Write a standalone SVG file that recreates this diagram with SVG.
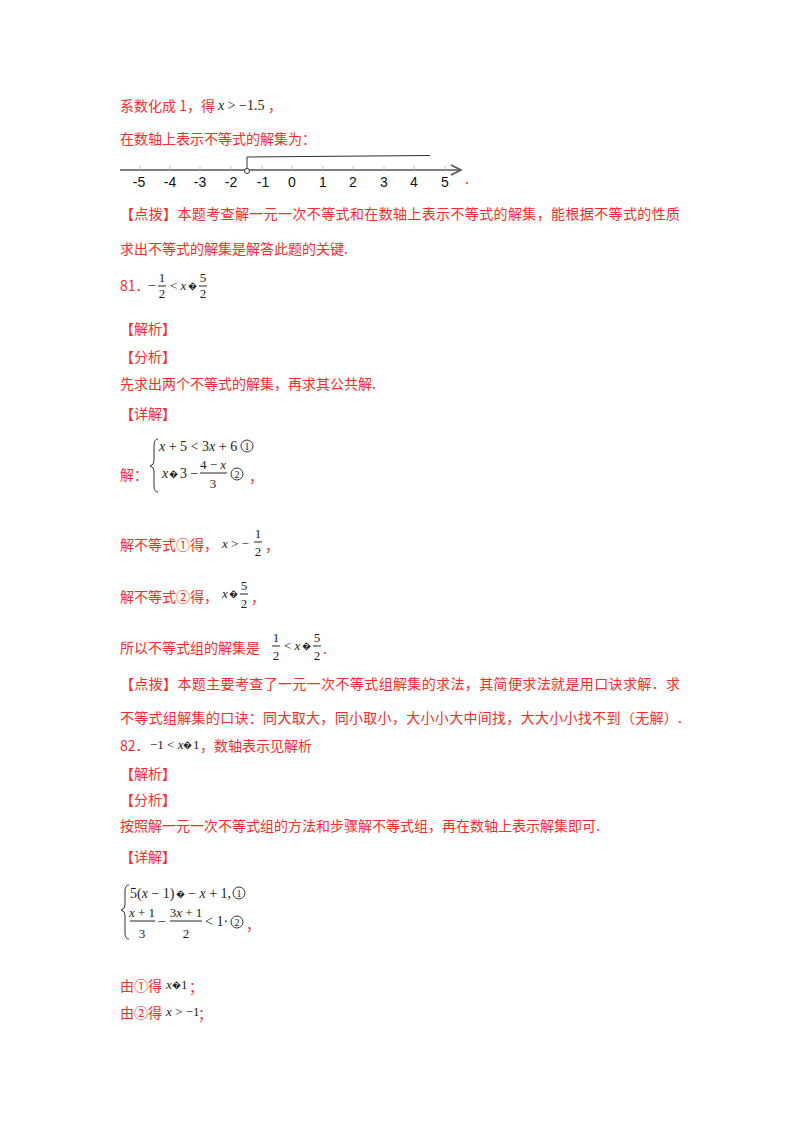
<svg xmlns="http://www.w3.org/2000/svg" width="800" height="1132" viewBox="0 0 800 1132">
<style>
.r{fill:#ff2a2a;font-family:"Noto Sans CJK SC","Liberation Serif",serif;font-size:14px}
.m{fill:#222;font-family:"Liberation Serif","Noto Sans CJK SC",serif;font-size:14px}
.i{font-style:italic}
.s{font-size:13px}
.q{font-size:9px}
.ax{fill:#111;font-family:"Liberation Sans",sans-serif;font-size:14px}
.ln{stroke:#333;stroke-width:1;fill:none}
</style>
<rect width="800" height="1132" fill="#fff"/>
<text class="r" x="120" y="111">系数化成 1，得</text>
<text class="m" x="218" y="110"><tspan class="i">x</tspan> &gt; −1.5</text>
<text class="r" x="268" y="111">，</text>
<text class="r" x="120" y="144">在数轴上表示不等式的解集为：</text>
<g id="numberline">
<line x1="120" y1="170" x2="460" y2="170" stroke="#555" stroke-width="1.6"/>
<path d="M451,165 L461,170 L451,175" fill="none" stroke="#555" stroke-width="1.6"/>
<g stroke="#bbb" stroke-width="1">
<line x1="140" y1="166" x2="140" y2="170"/><line x1="170" y1="166" x2="170" y2="170"/><line x1="200" y1="166" x2="200" y2="170"/><line x1="231" y1="166" x2="231" y2="170"/><line x1="262" y1="166" x2="262" y2="170"/><line x1="292" y1="166" x2="292" y2="170"/><line x1="323" y1="166" x2="323" y2="170"/><line x1="353" y1="166" x2="353" y2="170"/><line x1="384" y1="166" x2="384" y2="170"/><line x1="414" y1="166" x2="414" y2="170"/><line x1="445" y1="166" x2="445" y2="170"/>
</g>
<path d="M247,168 L247,157 L430,155.5" class="ln"/>
<circle cx="247" cy="171" r="2.5" fill="#fff" stroke="#333"/>
<g class="ax" text-anchor="middle">
<text x="139" y="187">-5</text><text x="170" y="187">-4</text><text x="200" y="187">-3</text><text x="231" y="187">-2</text><text x="263" y="187">-1</text><text x="292" y="187">0</text><text x="323" y="187">1</text><text x="353" y="187">2</text><text x="384" y="187">3</text><text x="414" y="187">4</text><text x="445" y="187">5</text>
</g>
<text class="r" x="465" y="184">.</text>
</g>
<text class="r" x="120" y="219" textLength="560">【点拨】本题考查解一元一次不等式和在数轴上表示不等式的解集，能根据不等式的性质</text>
<text class="r" x="120" y="254">求出不等式的解集是解答此题的关键.</text>
<text class="r" x="120" y="291">81．</text>
<g class="m">
<text x="148" y="290">−</text>
<text x="162" y="282" class="s" text-anchor="middle">1</text><line x1="158" y1="286" x2="166" y2="286" stroke="#222"/><text x="162" y="298" class="s" text-anchor="middle">2</text>
<text x="170" y="290" class="s">&lt; <tspan class="i">x</tspan></text><text x="188" y="289" class="q">�</text>
<text x="203" y="282" class="s" text-anchor="middle">5</text><line x1="199" y1="286" x2="207" y2="286" stroke="#222"/><text x="203" y="298" class="s" text-anchor="middle">2</text>
</g>
<text class="r" x="120" y="334">【解析】</text>
<text class="r" x="120" y="362">【分析】</text>
<text class="r" x="120" y="389">先求出两个不等式的解集，再求其公共解.</text>
<text class="r" x="120" y="419">【详解】</text>
<text class="r" x="120" y="480">解：</text>
<g class="m">
<path d="M158,439 Q154,439 154,446 L154,461 Q154,465 150,466 Q154,467 154,471 L154,486 Q154,492 158,492" class="ln"/>
<text x="159" y="451"><tspan class="i">x</tspan> + 5 &lt; 3<tspan class="i">x</tspan> + 6</text>
<circle cx="247" cy="446" r="6" class="ln"/><text x="247" y="450" text-anchor="middle" font-size="10">1</text>
<text x="162" y="478"><tspan class="i">x</tspan></text><text x="169" y="477" class="q">�</text><text x="180" y="478">3 −</text>
<text x="213" y="469" class="s" text-anchor="middle">4 − <tspan class="i">x</tspan></text><line x1="200" y1="473" x2="227" y2="473" stroke="#222"/><text x="213" y="488" class="s" text-anchor="middle">3</text>
<circle cx="237" cy="474" r="6" class="ln"/><text x="237" y="478" text-anchor="middle" font-size="10">2</text>
</g>
<text class="r" x="249" y="482">，</text>
<text class="r" x="120" y="550">解不等式①得，</text>
<g class="m">
<text x="222" y="548" class="s"><tspan class="i">x</tspan> &gt; −</text>
<text x="258" y="538" class="s" text-anchor="middle">1</text><line x1="254" y1="542" x2="262" y2="542" stroke="#222"/><text x="258" y="556" class="s" text-anchor="middle">2</text>
</g>
<text class="r" x="265" y="551">，</text>
<text class="r" x="120" y="602">解不等式②得，</text>
<g class="m">
<text x="222" y="598" class="s"><tspan class="i">x</tspan></text><text x="229" y="597" class="q">�</text>
<text x="244" y="590" class="s" text-anchor="middle">5</text><line x1="240" y1="594" x2="248" y2="594" stroke="#222"/><text x="244" y="608" class="s" text-anchor="middle">2</text>
</g>
<text class="r" x="251" y="603">，</text>
<text class="r" x="120" y="653">所以不等式组的解集是</text>
<g class="m">
<text x="276" y="642" class="s" text-anchor="middle">1</text><line x1="272" y1="646" x2="280" y2="646" stroke="#222"/><text x="276" y="660" class="s" text-anchor="middle">2</text>
<text x="284" y="650" class="s">&lt; <tspan class="i">x</tspan></text><text x="302" y="649" class="q">�</text>
<text x="317" y="642" class="s" text-anchor="middle">5</text><line x1="313" y1="646" x2="321" y2="646" stroke="#222"/><text x="317" y="660" class="s" text-anchor="middle">2</text>
</g>
<text class="r" x="323" y="654">.</text>
<text class="r" x="120" y="689" textLength="560">【点拨】本题主要考查了一元一次不等式组解集的求法，其简便求法就是用口诀求解．求</text>
<text class="r" x="120" y="723" textLength="562">不等式组解集的口诀：同大取大，同小取小，大小小大中间找，大大小小找不到（无解）.</text>
<text class="r" x="120" y="751">82．</text>
<text class="m s" x="150" y="749">−1 &lt; <tspan class="i">x</tspan></text><text class="m q" x="183" y="748">�</text><text class="m s" x="193" y="749">1</text>
<text class="r" x="200" y="751">，数轴表示见解析</text>
<text class="r" x="120" y="779">【解析】</text>
<text class="r" x="120" y="805">【分析】</text>
<text class="r" x="120" y="831">按照解一元一次不等式组的方法和步骤解不等式组，再在数轴上表示解集即可.</text>
<text class="r" x="120" y="862">【详解】</text>
<g class="m">
<path d="M129,885 Q125,885 125,891 L125,905 Q125,909 121,910 Q125,911 125,915 L125,933 Q125,939 129,939" class="ln"/>
<text x="130" y="898">5(<tspan class="i">x</tspan> − 1)</text><text x="176" y="897" class="q">�</text><text x="188" y="898">− <tspan class="i">x</tspan> + 1,</text>
<circle cx="239" cy="893" r="6" class="ln"/><text x="239" y="897" text-anchor="middle" font-size="10">1</text>
<text x="142" y="917" class="s" text-anchor="middle"><tspan class="i">x</tspan> + 1</text><line x1="130" y1="921" x2="155" y2="921" stroke="#222"/><text x="142" y="938" class="s" text-anchor="middle">3</text>
<text x="158" y="926">−</text>
<text x="186" y="917" class="s" text-anchor="middle">3<tspan class="i">x</tspan> + 1</text><line x1="170" y1="921" x2="202" y2="921" stroke="#222"/><text x="186" y="938" class="s" text-anchor="middle">2</text>
<text x="205" y="926">&lt; 1·</text>
<circle cx="237" cy="922" r="6" class="ln"/><text x="237" y="926" text-anchor="middle" font-size="10">2</text>
</g>
<text class="r" x="246" y="930">，</text>
<text class="r" x="120" y="991">由①得</text>
<text class="m s" x="166" y="989"><tspan class="i">x</tspan></text><text class="m q" x="172" y="988">�</text><text class="m s" x="181" y="989">1</text>
<text class="r" x="189" y="992">；</text>
<text class="r" x="120" y="1018">由②得</text>
<text class="m s" x="166" y="1016"><tspan class="i">x</tspan> &gt; −1</text>
<text class="r" x="198" y="1019">；</text>
</svg>
